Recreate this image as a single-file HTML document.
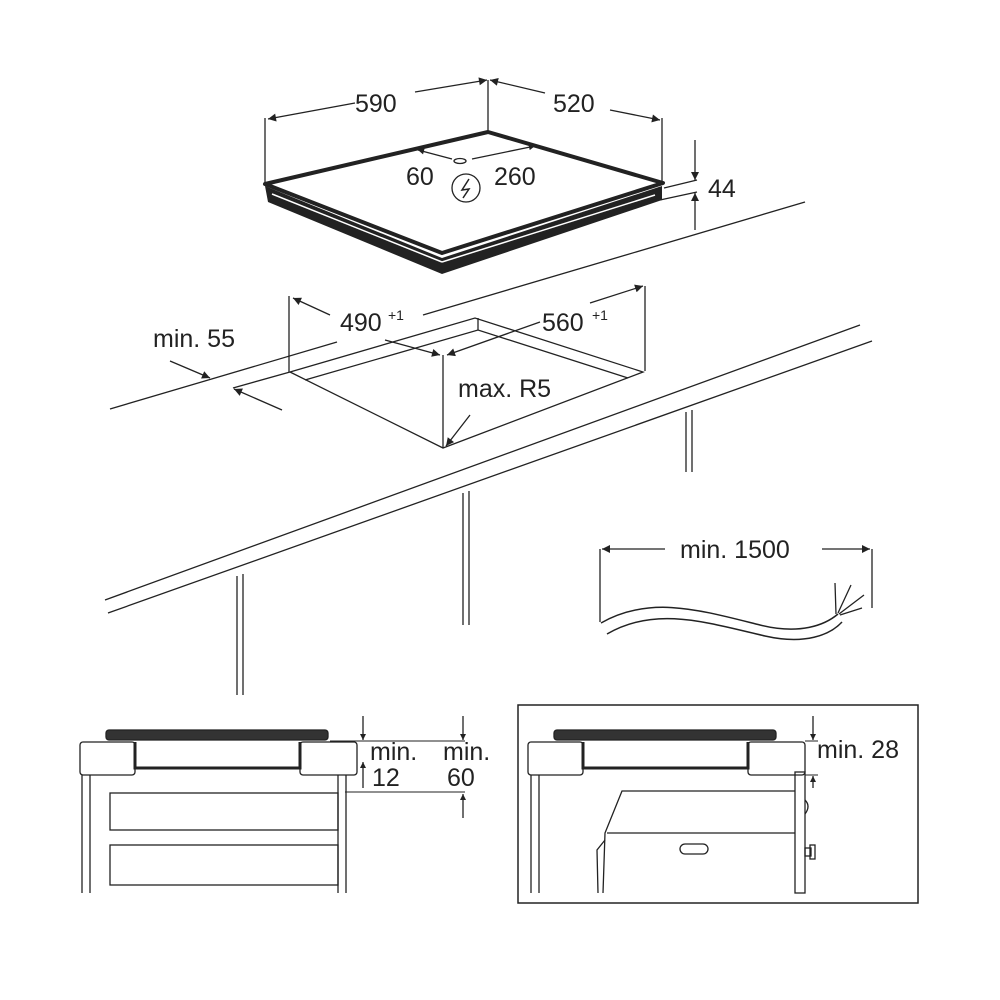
<!DOCTYPE html>
<html><head><style>body{margin:0;background:#fff}svg{display:block}text{font-family:"Liberation Sans",sans-serif;fill:#222}</style></head><body>
<svg width="1000" height="1000" viewBox="0 0 1000 1000" xmlns="http://www.w3.org/2000/svg">
<defs><marker id="a" viewBox="0 0 10 10" refX="10" refY="5" markerWidth="8" markerHeight="6" orient="auto-start-reverse" markerUnits="userSpaceOnUse"><path d="M0,0L10,5L0,10z" fill="#222"/></marker>
<marker id="b" viewBox="0 0 10 10" refX="10" refY="5" markerWidth="16" markerHeight="8" orient="auto-start-reverse" markerUnits="userSpaceOnUse"><path d="M0,0L10,5L0,10z" fill="#222"/></marker></defs>
<g stroke="#222" fill="none" stroke-width="1.3">
<!-- hob -->
<polygon points="265,186 442,258 662,186 662,200 442,274 268,202" fill="#222" stroke="none"/>
<line x1="272" y1="194" x2="442" y2="262" stroke="#fff" stroke-width="1.5"/>
<line x1="442" y1="262" x2="655" y2="195" stroke="#fff" stroke-width="1.5"/>
<polygon points="265,184 488,132 663,183 442,253" stroke-width="4" stroke-linejoin="round"/>
<line x1="265" y1="183" x2="265" y2="118"/><line x1="488" y1="131" x2="488" y2="80"/><line x1="662" y1="182" x2="662" y2="118"/>
<line x1="355" y1="103" x2="268" y2="119" marker-end="url(#b)"/><line x1="415" y1="92" x2="487" y2="80" marker-end="url(#b)"/>
<line x1="545" y1="93" x2="490" y2="80" marker-end="url(#b)"/><line x1="610" y1="110" x2="660" y2="120" marker-end="url(#b)"/>
<line x1="452" y1="159" x2="418" y2="150" marker-end="url(#a)"/><line x1="472" y1="159" x2="535" y2="146" marker-end="url(#a)"/>
<ellipse cx="460" cy="161" rx="6" ry="2.5"/>
<circle cx="466" cy="188" r="14"/><path d="M469,179 L462,190 L469,189 L463,198" stroke-width="1.5"/>
<line x1="664" y1="188" x2="697" y2="180"/><line x1="660" y1="200" x2="697" y2="192"/>
<line x1="695" y1="140" x2="695" y2="180" marker-end="url(#b)"/><line x1="695" y1="230" x2="695" y2="193" marker-end="url(#b)"/>
<!-- countertop -->
<line x1="110" y1="409" x2="337" y2="342"/><line x1="423" y1="315" x2="805" y2="202"/>
<line x1="105" y1="600" x2="860" y2="325"/><line x1="108" y1="613" x2="872" y2="341"/>
<line x1="233" y1="388" x2="290" y2="372"/>
<polyline points="290,372 475,318 643,372 443,448 290,372"/>
<polyline points="305,380 478,330 628,378"/><line x1="478" y1="330" x2="478" y2="318"/>
<line x1="443" y1="448" x2="443" y2="355"/>
<line x1="289" y1="372" x2="289" y2="296"/><line x1="645" y1="371" x2="645" y2="286"/>
<line x1="330" y1="315" x2="293" y2="298" marker-end="url(#b)"/><line x1="385" y1="340" x2="440" y2="355" marker-end="url(#b)"/>
<line x1="540" y1="322" x2="447" y2="355" marker-end="url(#b)"/><line x1="590" y1="303" x2="643" y2="286" marker-end="url(#b)"/>
<line x1="470" y1="415" x2="446" y2="446" marker-end="url(#b)"/>
<line x1="170" y1="361" x2="210" y2="378" marker-end="url(#b)"/><line x1="282" y1="410" x2="234" y2="389" marker-end="url(#b)"/>
<!-- legs -->
<line x1="237" y1="576" x2="237" y2="695"/><line x1="243" y1="574" x2="243" y2="695"/>
<line x1="463" y1="493" x2="463" y2="625"/><line x1="469" y1="491" x2="469" y2="625"/>
<line x1="686" y1="412" x2="686" y2="472"/><line x1="692" y1="410" x2="692" y2="472"/>
<!-- cable -->
<line x1="600" y1="549" x2="600" y2="622"/><line x1="872" y1="549" x2="872" y2="608"/>
<line x1="665" y1="549" x2="602" y2="549" marker-end="url(#b)"/><line x1="822" y1="549" x2="870" y2="549" marker-end="url(#b)"/>
<path d="M601,623 C650,595 700,610 760,625 C800,635 825,625 838,614" stroke-width="1.5"/>
<path d="M607,634 C655,606 705,622 765,636 C805,645 830,635 842,622" stroke-width="1.5"/>
<path d="M836,614 L835,583 M838,613 L851,585 M839,614 L864,595 M840,615 L862,608"/>
<!-- bottom left -->
<rect x="80" y="742" width="55" height="33" rx="3"/><rect x="300" y="742" width="57" height="33" rx="3"/>
<rect x="106" y="730" width="222" height="10" rx="3" fill="#333"/>
<polyline points="135,742 135,768 300,768 300,742" stroke-width="3"/>
<line x1="82" y1="775" x2="82" y2="893"/><line x1="90" y1="775" x2="90" y2="893"/>
<line x1="338" y1="775" x2="338" y2="893"/><line x1="346" y1="775" x2="346" y2="893"/>
<rect x="110" y="793" width="228" height="37"/><rect x="110" y="845" width="228" height="40"/>
<line x1="330" y1="741" x2="465" y2="741" stroke-width="1"/><line x1="345" y1="792" x2="465" y2="792" stroke-width="1"/>
<line x1="363" y1="716" x2="363" y2="740" marker-end="url(#a)"/><line x1="363" y1="788" x2="363" y2="762" marker-end="url(#a)"/>
<line x1="463" y1="716" x2="463" y2="740" marker-end="url(#a)"/><line x1="463" y1="818" x2="463" y2="794" marker-end="url(#a)"/>
<!-- bottom right -->
<rect x="518" y="705" width="400" height="198" stroke-width="1.5"/>
<rect x="528" y="742" width="55" height="33" rx="3"/><rect x="748" y="742" width="57" height="33" rx="3"/>
<rect x="554" y="730" width="222" height="10" rx="3" fill="#333"/>
<polyline points="583,742 583,768 748,768 748,742" stroke-width="3"/>
<line x1="531" y1="775" x2="531" y2="893"/><line x1="539" y1="775" x2="539" y2="893"/>
<rect x="795" y="772" width="10" height="121"/>
<polyline points="795,791 622,791 605,833 603,893"/><line x1="607" y1="833" x2="795" y2="833"/>
<polyline points="598,893 597,850 605,840"/>
<rect x="680" y="844" width="28" height="10" rx="5"/>
<path d="M805,800 Q811,806 805,814"/><rect x="805" y="848" width="6" height="8"/><rect x="810" y="845" width="5" height="14"/>
<line x1="805" y1="741" x2="818" y2="741" stroke-width="1"/><line x1="805" y1="775" x2="818" y2="775" stroke-width="1"/>
<line x1="813" y1="716" x2="813" y2="740" marker-end="url(#a)"/><line x1="813" y1="788" x2="813" y2="776" marker-end="url(#a)"/>
</g>
<g font-size="25">
<text x="355" y="112">590</text><text x="553" y="112">520</text>
<text x="406" y="185">60</text><text x="494" y="185">260</text>
<text x="708" y="197">44</text>
<text x="340" y="331">490</text><text x="388" y="320" font-size="14">+1</text>
<text x="542" y="331">560</text><text x="592" y="320" font-size="14">+1</text>
<text x="458" y="397">max. R5</text>
<text x="153" y="347">min. 55</text>
<text x="680" y="558">min. 1500</text>
<text x="370" y="760">min.</text><text x="372" y="786">12</text>
<text x="443" y="760">min.</text><text x="447" y="786">60</text>
<text x="817" y="758">min. 28</text>
</g>
</svg>
</body></html>
